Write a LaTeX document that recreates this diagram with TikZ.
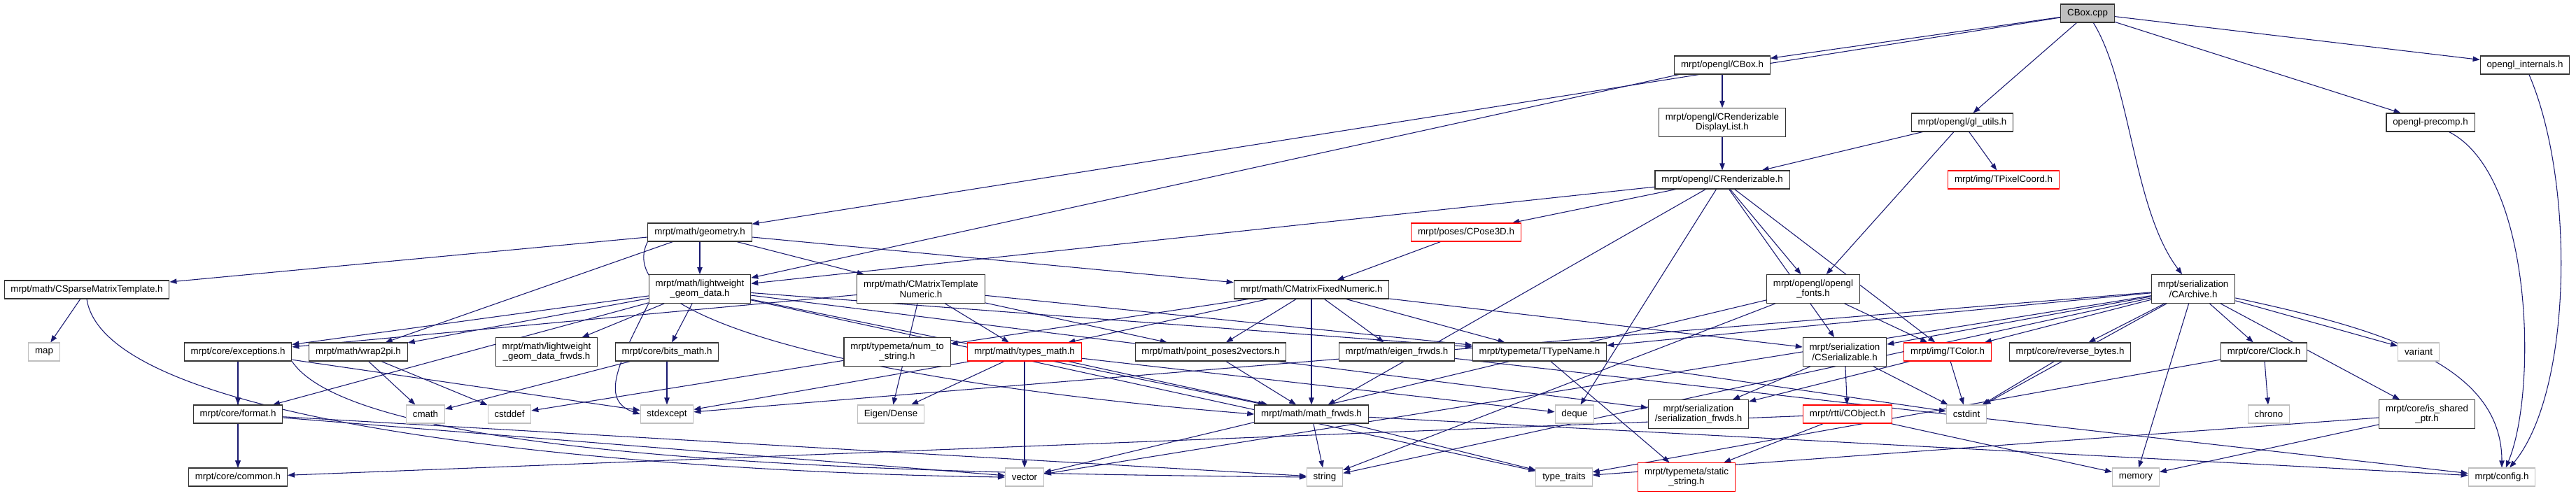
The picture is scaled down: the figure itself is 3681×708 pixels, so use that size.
\documentclass[tikz,border=0pt]{standalone}
\usepackage{fontspec}
\setmainfont{Liberation Sans}
\usetikzlibrary{arrows.meta,backgrounds}
\definecolor{incblue}{HTML}{191970}
\definecolor{sysgray}{HTML}{BFBFBF}

\begin{document}
\begin{tikzpicture}[x=0.75pt,y=-0.75pt,
    file/.style={draw=black!80,fill=white,line width=0.8pt,inner xsep=7pt,inner ysep=0pt,
      minimum height=19.5pt,font=\fontsize{10}{11}\selectfont,align=center},
    tall/.style={minimum height=30.5pt},
    sys/.style={file,draw=sysgray},
    cut/.style={file,draw=red},
    root/.style={file,fill=sysgray},
    inc/.style={draw=incblue,line width=0.8pt,-{Triangle[length=7.5pt,width=5.5pt]}}]
  \useasboundingbox (0,0) rectangle (3681,708);
  % top of the graph
  \node[root] (cboxcpp) at (2983,19) {CBox.cpp};
  \node[file] (cboxh) at (2461,93) {mrpt/opengl/CBox.h};
  \node[file] (internals) at (3608,93) {opengl\_internals.h};
  \node[file,tall] (dlist) at (2461,175) {mrpt/opengl/CRenderizable\\DisplayList.h};
  \node[file] (glutils) at (2804,175) {mrpt/opengl/gl\_utils.h};
  \node[file] (precomp) at (3473,175) {opengl-precomp.h};
  \node[file] (crend) at (2461,257) {mrpt/opengl/CRenderizable.h};
  \node[cut] (tpixel) at (2863,257) {mrpt/img/TPixelCoord.h};
  \node[file] (geom) at (1000,332) {mrpt/math/geometry.h};
  \node[cut] (cpose) at (2095,332) {mrpt/poses/CPose3D.h};
  % middle rows
  \node[file] (csparse) at (124,414) {mrpt/math/CSparseMatrixTemplate.h};
  \node[file,tall] (lgd) at (1000,413) {mrpt/math/lightweight\\\_geom\_data.h};
  \node[file,tall] (cmtn) at (1316,413) {mrpt/math/CMatrixTemplate\\Numeric.h};
  \node[file] (cmfn) at (1874,414) {mrpt/math/CMatrixFixedNumeric.h};
  \node[file,tall] (fonts) at (2591,413) {mrpt/opengl/opengl\\\_fonts.h};
  \node[file,tall] (carchive) at (3134,413) {mrpt/serialization\\/CArchive.h};
  \node[sys] (map) at (63,503) {map};
  \node[file] (except) at (340,503) {mrpt/core/exceptions.h};
  \node[file] (wrap) at (512,503) {mrpt/math/wrap2pi.h};
  \node[file,tall] (lgdfrwds) at (781,503) {mrpt/math/lightweight\\\_geom\_data\_frwds.h};
  \node[file] (bitsmath) at (953,503) {mrpt/core/bits\_math.h};
  \node[file,tall] (numstr) at (1282,503) {mrpt/typemeta/num\_to\\\_string.h};
  \node[cut] (typesmath) at (1464,503) {mrpt/math/types\_math.h};
  \node[file] (pp2v) at (1730,503) {mrpt/math/point\_poses2vectors.h};
  \node[file] (eigenfrwds) at (1996,503) {mrpt/math/eigen\_frwds.h};
  \node[file] (ttype) at (2200,503) {mrpt/typemeta/TTypeName.h};
  \node[file,tall] (cser) at (2636,503) {mrpt/serialization\\/CSerializable.h};
  \node[cut] (tcolor) at (2783,503) {mrpt/img/TColor.h};
  \node[file] (revbytes) at (2958,503) {mrpt/core/reverse\_bytes.h};
  \node[file] (clock) at (3235,503) {mrpt/core/Clock.h};
  \node[sys] (variant) at (3456,503) {variant};
  \node[file] (format) at (340,592) {mrpt/core/format.h};
  \node[sys] (cmath) at (608,592) {cmath};
  \node[sys] (cstddef) at (728,592) {cstddef};
  \node[sys] (stdexcept) at (953,592) {stdexcept};
  \node[sys] (eigendense) at (1273,592) {Eigen/Dense};
  \node[file] (mathfrwds) at (1874,592) {mrpt/math/math\_frwds.h};
  \node[sys] (deque) at (2250,592) {deque};
  \node[file,tall] (serfrwds) at (2427,592) {mrpt/serialization\\/serialization\_frwds.h};
  \node[cut] (cobject) at (2640,592) {mrpt/rtti/CObject.h};
  \node[sys] (cstdint) at (2810,592) {cstdint};
  \node[sys] (chrono) at (3242,592) {chrono};
  \node[file,tall] (isshared) at (3468,592) {mrpt/core/is\_shared\\\_ptr.h};
  % bottom row
  \node[file] (common) at (340,682) {mrpt/core/common.h};
  \node[sys] (vector) at (1464,682) {vector};
  \node[sys] (string) at (1893,682) {string};
  \node[sys] (typetraits) at (2235,682) {type\_traits};
  \node[cut,tall] (staticstr) at (2410,682) {mrpt/typemeta/static\\\_string.h};
  \node[sys] (memory) at (3052,682) {memory};
  \node[sys] (config) at (3575,682) {mrpt/config.h};

  \begin{scope}[on background layer]
    \foreach \a/\b in {cboxcpp/cboxh, cboxcpp/geom, cboxcpp/glutils,
        cboxcpp/precomp, cboxcpp/internals, cboxh/dlist, cboxh/lgd, dlist/crend,
        glutils/crend, glutils/tpixel, glutils/fonts,
        crend/lgd, crend/cpose, crend/fonts, crend/mathfrwds, crend/deque, crend/cser,
        crend/tcolor, cpose/cmfn, geom/csparse, geom/lgd, geom/cmtn, geom/cmfn, geom/wrap,
        csparse/map, lgd/except, lgd/format, lgd/wrap, lgd/lgdfrwds, lgd/bitsmath,
        lgd/mathfrwds, lgd/ttype, lgd/serfrwds, lgd/typetraits, cmtn/except,
        cmtn/eigendense, cmtn/typesmath, cmtn/pp2v, cmtn/ttype, cmfn/typesmath,
        cmfn/numstr, cmfn/pp2v, cmfn/mathfrwds, cmfn/eigenfrwds, cmfn/ttype, cmfn/cser,
        fonts/tcolor, fonts/string, fonts/vector, except/format, except/common,
        except/stdexcept, format/common, format/string, format/vector, wrap/cmath,
        wrap/cstddef, bitsmath/cmath, bitsmath/stdexcept, numstr/cstddef,
        typesmath/stdexcept, typesmath/eigendense, typesmath/vector, typesmath/mathfrwds,
        typesmath/deque, pp2v/mathfrwds, mathfrwds/string, mathfrwds/typetraits,
        mathfrwds/config, eigenfrwds/config, ttype/staticstr, ttype/cstdint, cser/cobject,
        cser/serfrwds, cser/cstdint, tcolor/cstdint, tcolor/serfrwds, cobject/staticstr,
        cobject/memory, cobject/common, revbytes/cstdint, clock/chrono, clock/typetraits,
        isshared/memory, isshared/typetraits, carchive/ttype, carchive/cser,
        carchive/tcolor, carchive/stdexcept, carchive/revbytes, carchive/cstdint,
        carchive/string, carchive/clock, carchive/variant,
        carchive/isshared, carchive/memory, carchive/vector}
      \draw[inc] (\a) -- (\b);
    % the ones that swing round other boxes
    \draw[inc] (csparse.south) .. controls +(30,200) and +(-400,-5) .. (vector.west);
    \draw[inc] (except.south east) .. controls +(100,150) and +(-500,-5) .. (string.west);
    \draw[inc] (lgd.south west) .. controls +(-40,80) and +(-60,-20) .. (stdexcept.west);
    \draw[inc] (geom.south west) .. controls +(-60,120) and +(-500,-40) .. (mathfrwds.west);
    \draw[inc] (cboxcpp) .. controls (3045,120) and (3048,300) .. (carchive);
    \draw[inc] (internals) .. controls (3680,260) and (3676,560) .. (config);
    \draw[inc] (precomp) .. controls (3620,250) and (3626,560) .. (config);
    \draw[inc] (carchive) .. controls (3400,470) and (3575,520) .. (config);
  \end{scope}
\end{tikzpicture}
\end{document}
